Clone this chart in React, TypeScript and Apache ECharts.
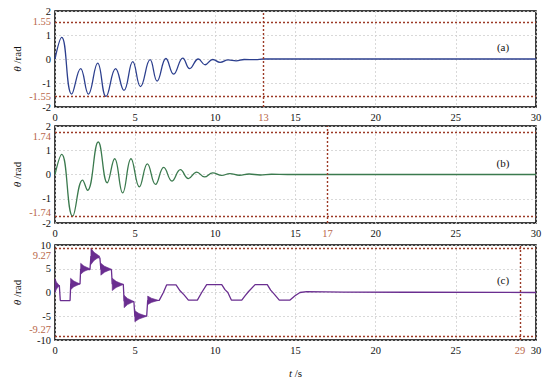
import React, { useEffect, useRef } from "react";
import * as echarts from "echarts";

// ---- Data ----
const T_A = [0, 0.42, 1.04, 1.6, 2.08, 2.66, 3.18, 3.78, 4.3, 4.85, 5.33, 5.93, 6.37, 6.92, 7.4, 7.97, 8.4, 8.94, 9.36, 9.84, 10.3, 10.8, 11.3, 11.8, 12.5, 13, 30];
const THETA_A = [0, 0.9, -1.46, -0.4, -1.46, -0.17, -1.56, -0.4, -1.31, -0.11, -1.15, -0.03, -0.92, 0.02, -0.63, 0.04, -0.4, 0, -0.24, -0.02, -0.14, -0.04, -0.08, -0.02, -0.03, 0, 0];

const T_B = [0, 0.42, 1.1, 1.72, 2.03, 2.7, 3.26, 3.72, 4.22, 4.74, 5.26, 5.76, 6.27, 6.78, 7.3, 7.82, 8.32, 8.84, 9.32, 9.84, 10.4, 10.9, 11.5, 12.1, 12.8, 13.5, 14.5, 30];
const THETA_B = [0, 0.83, -1.72, -0.23, -0.65, 1.34, -0.34, 0.65, -0.76, 0.65, -0.51, 0.44, -0.41, 0.29, -0.27, 0.2, -0.17, 0.1, -0.1, 0.07, -0.04, 0.04, -0.03, 0.02, -0.02, 0.01, 0, 0];

const T_C = [0, 0.27, 0.33, 0.94, 0.98, 1.56, 1.6, 2.18, 2.24, 2.8, 2.86, 3.52, 3.57, 4.26, 4.31, 4.92, 4.98, 5.72, 5.78, 6.5, 6.76, 6.96, 7.55, 7.8, 8.05, 8.32, 8.88, 9.15, 9.46, 10.4, 10.6, 10.78, 11.0, 11.65, 11.85, 12.06, 12.48, 13.24, 13.45, 13.66, 13.99, 14.66, 14.97, 15.28, 15.7, 18, 22, 30];
const THETA_C = [1.45, 1.45, -1.7, -1.7, 1.8, 1.8, 4.9, 4.8, 7.6, 7.3, 4.9, 4.8, 1.8, 1.7, -1.8, -1.9, -5.0, -4.9, -1.7, -1.65, 0, 1.6, 1.6, 0.36, -0.5, -1.6, -1.6, 0, 1.65, 1.65, 0.6, 0, -1.6, -1.6, -0.7, 0.15, 1.65, 1.65, 0.5, -0.3, -1.6, -1.6, -0.7, 0, 0.2, 0.1, 0.05, 0];

// high-frequency bursts in (c): [tStart, tEnd, centre, half-amplitude]
const BURSTS_C = [
  [0, 0.27, 1.45, 1.45],
  [0.97, 1.56, 1.8, 1.2],
  [1.6, 2.18, 5.0, 1.15],
  [2.24, 2.8, 7.6, 1.7],
  [2.86, 3.52, 4.9, 1.25],
  [3.57, 4.26, 1.7, 1.3],
  [4.31, 4.92, -1.9, 1.3],
  [4.98, 5.72, -5.0, 1.15],
  [5.78, 6.45, -1.65, 0.9],
];

const X_TICKS = [0, 5, 10, 15, 20, 25, 30];
const LIMIT_A = 1.55;
const LIMIT_B = 1.74;
const LIMIT_C = 9.27;
const SETTLE_A = 13;
const SETTLE_B = 17;
const SETTLE_C = 29;
const PANEL_LABELS = ["(a)", "(b)", "(c)"];

const FONT = "Liberation Serif";
const FS = 10.5;
const LIMIT_COLOR = "#9c3a26";
const LIMIT_TEXT = "#b8674a";

function zip(t: number[], v: number[]) {
  return t.map((x, i) => [x, v[i]]);
}

export default function App() {
  const ref = useRef<HTMLDivElement>(null);
  useEffect(() => {
    if (!ref.current) return;
    document.body.style.margin = "0";
    const chart = echarts.init(ref.current, null, { renderer: "svg" });
    const grids = [
      { left: 55, right: 14, top: 11, height: 96 },
      { left: 55, right: 14, top: 126, height: 97 },
      { left: 55, right: 14, top: 245, height: 95 },
    ].map((g) => ({ ...g, show: true, borderColor: "#000", borderWidth: 1.5, backgroundColor: "transparent" }));

    const splitLine = { show: true, lineStyle: { color: "#cfcfcf", width: 0.8, type: [2, 2] as any } };
    const xAxis = [0, 1, 2].map((i) => ({
      type: "value",
      gridIndex: i,
      min: X_TICKS[0],
      max: X_TICKS[X_TICKS.length - 1],
      interval: X_TICKS[1] - X_TICKS[0],
      axisLine: { show: false, onZero: false },
      axisTick: { show: false },
      splitLine,
      axisLabel: { fontFamily: FONT, fontSize: FS, color: "#111", margin: 5 },
      name: i === 2 ? "{i|t} /s" : "",
      nameLocation: "middle",
      nameGap: 27,
      nameTextStyle: {
        fontFamily: FONT,
        fontSize: 11,
        color: "#111",
        rich: { i: { fontStyle: "italic", fontFamily: FONT, fontSize: 11, color: "#111" } },
      },
    }));
    const yLims = [2, 2, 10];
    const yInts = [1, 1, 5];
    const yAxis = [0, 1, 2].map((i) => ({
      type: "value",
      gridIndex: i,
      min: -yLims[i],
      max: yLims[i],
      interval: yInts[i],
      axisLine: { show: false, onZero: false },
      axisTick: { show: false },
      splitLine,
      axisLabel: { fontFamily: FONT, fontSize: FS, color: "#111", margin: 4 },
      name: "{i|θ} /rad",
      nameLocation: "middle",
      nameRotate: 90,
      nameGap: 33,
      nameTextStyle: {
        fontFamily: FONT,
        fontSize: 11,
        color: "#111",
        rich: { i: { fontStyle: "italic", fontFamily: FONT, fontSize: 11, color: "#111" } },
      },
    }));

    const mkLine = (lim: number, settle: number, offY: number) => ({
      silent: true,
      symbol: "none",
      lineStyle: { color: LIMIT_COLOR, type: [2, 2] as any, width: 1.4 },
      label: { position: "start", fontFamily: FONT, fontSize: FS, color: LIMIT_TEXT, distance: 4 },
      data: [
        { yAxis: lim, label: { formatter: String(lim), offset: [0, offY] } },
        { yAxis: -lim, label: { formatter: "-" + String(lim), offset: [0, -offY] } },
        { xAxis: settle, label: { formatter: String(settle), distance: 5 } },
      ],
    });

    const colors = ["#2c3f8e", "#3b7a4e", "#6a2e90"];
    const option: any = {
      animation: false,
      grid: grids,
      xAxis,
      yAxis,
      series: [
        {
          type: "line",
          xAxisIndex: 0,
          yAxisIndex: 0,
          data: zip(T_A, THETA_A),
          smooth: 0.45,
          showSymbol: false,
          lineStyle: { color: colors[0], width: 1.3 },
          markLine: mkLine(LIMIT_A, SETTLE_A, 0),
        },
        {
          type: "line",
          xAxisIndex: 1,
          yAxisIndex: 1,
          data: zip(T_B, THETA_B),
          smooth: 0.45,
          showSymbol: false,
          lineStyle: { color: colors[1], width: 1.3 },
          markLine: mkLine(LIMIT_B, SETTLE_B, 4),
        },
        {
          type: "line",
          xAxisIndex: 2,
          yAxisIndex: 2,
          data: zip(T_C, THETA_C),
          showSymbol: false,
          lineStyle: { color: colors[2], width: 1.3 },
          markLine: mkLine(LIMIT_C, SETTLE_C, 7),
        },
        {
          type: "custom",
          xAxisIndex: 2,
          yAxisIndex: 2,
          data: BURSTS_C,
          encode: { x: [0, 1], y: [2] },
          renderItem: (_p: any, api: any) => {
            const t0 = api.value(0);
            const t1 = api.value(1);
            const c = api.value(2);
            const a = api.value(3);
            const tm = t0 + (t1 - t0) * 0.35;
            const pts = [
              api.coord([t0, c + a]),
              api.coord([tm, c + a * 0.5]),
              api.coord([t1, c]),
              api.coord([tm, c - a * 0.5]),
              api.coord([t0, c - a]),
            ];
            return { type: "polygon", shape: { points: pts }, style: { fill: colors[2], stroke: colors[2], lineWidth: 0.6 } };
          },
        },
      ],
      graphic: PANEL_LABELS.map((txt, i) => ({
        type: "text",
        x: 503,
        y: [47, 163, 280][i],
        style: { text: txt, fontFamily: FONT, fontSize: 11, fill: "#111", align: "center", verticalAlign: "middle" },
      })),
    };
    chart.setOption(option);
    return () => chart.dispose();
  }, []);
  return <div ref={ref} style={{ width: 550, height: 379 }} />;
}
